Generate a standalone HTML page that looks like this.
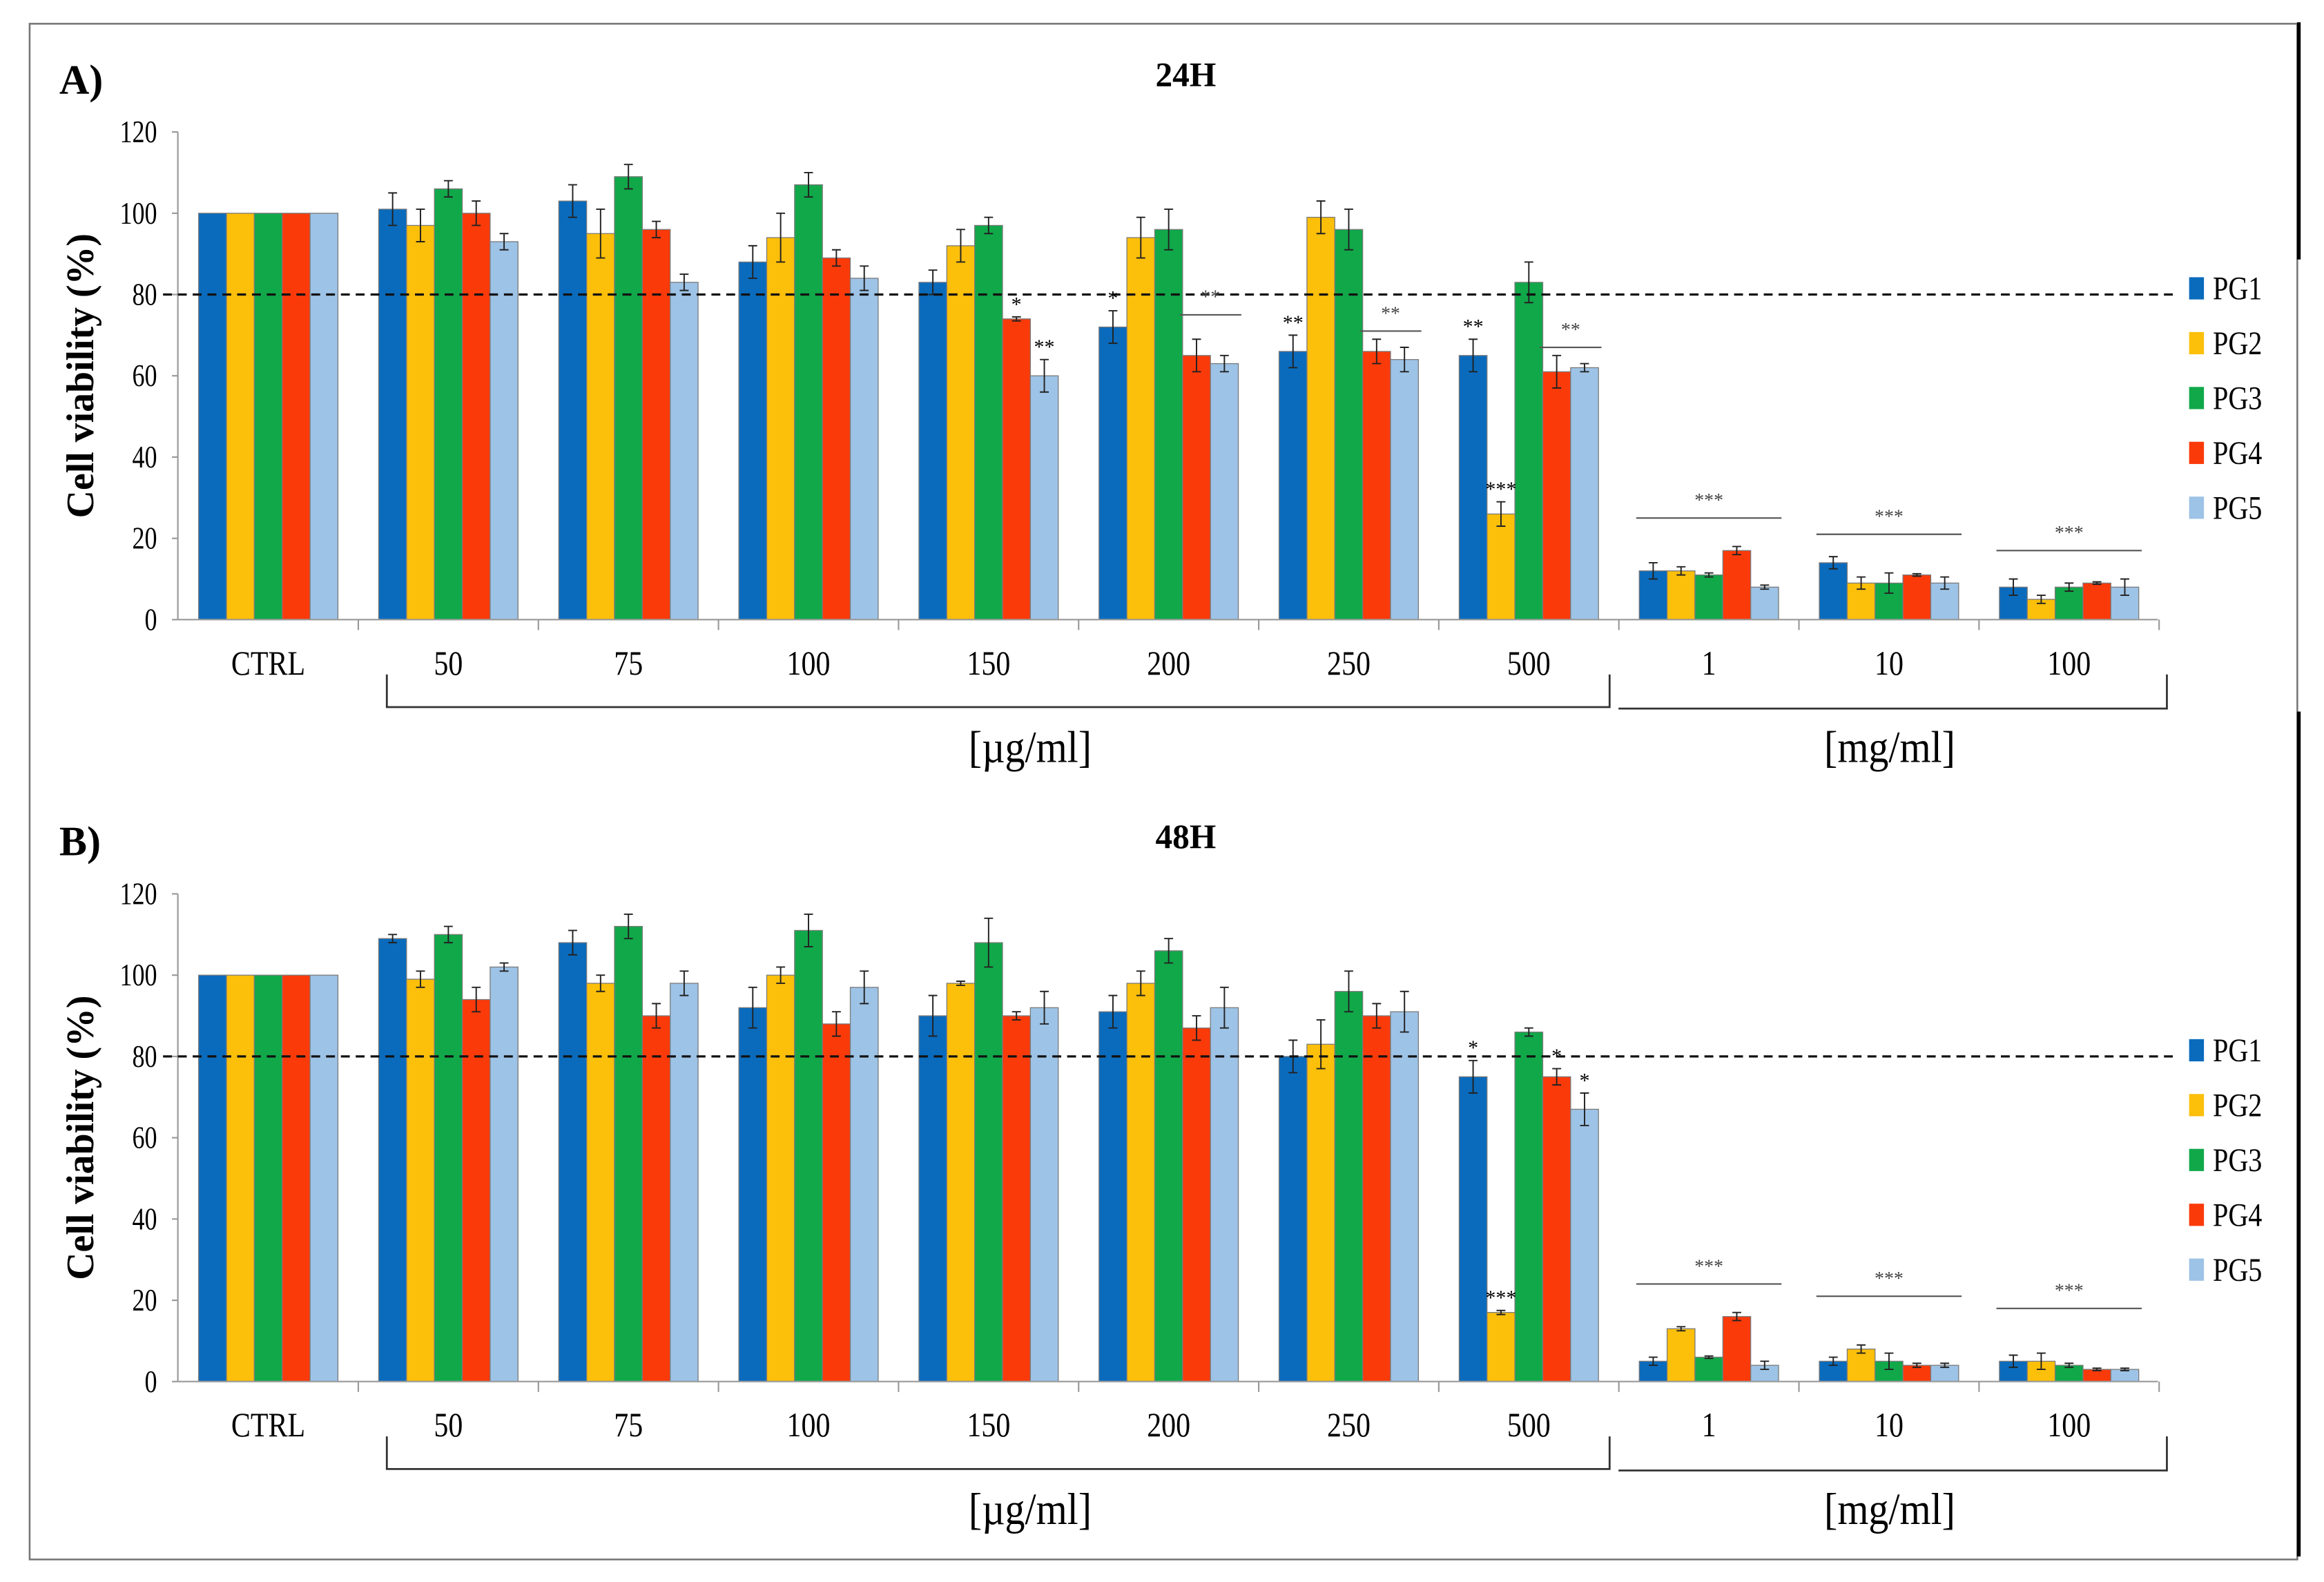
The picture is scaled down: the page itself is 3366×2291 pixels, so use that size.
<!DOCTYPE html>
<html><head><meta charset="utf-8"><style>
html,body{margin:0;padding:0;background:#fff;}
svg{display:block;}
text{font-family:"Liberation Serif",serif;}
</style></head><body>
<svg id="chart" width="3366" height="2291" viewBox="0 0 1568 1067.2" xmlns="http://www.w3.org/2000/svg">
<rect x="20" y="16" width="1530" height="1036" fill="none" stroke="#777" stroke-width="1.2"/>
<line x1="1551" y1="15" x2="1551" y2="175" stroke="#000" stroke-width="2.5"/>
<line x1="1551" y1="480" x2="1551" y2="1050" stroke="#000" stroke-width="2.5"/>
<g id="panels"></g>
</svg>
<script>
const categories = ["CTRL","50","75","100","150","200","250","500","1","10","100"];
const series = ["PG1","PG2","PG3","PG4","PG5"];
const colors = ["#0a6bbd","#fcbf0a","#11a84a","#fb3a0a","#9dc3e6"];
const yTicks = [0,20,40,60,80,100,120];
const a_PG1 = [100,101,103,88,83,72,66,65,12,14,8];
const a_PG2 = [100,97,95,94,92,94,99,26,12,9,5];
const a_PG3 = [100,106,109,107,97,96,96,83,11,9,8];
const a_PG4 = [100,100,96,89,74,65,66,61,17,11,9];
const a_PG5 = [100,93,83,84,60,63,64,62,8,9,8];
const a_err = [[0,4,4,4,3,4,4,4,2,1.5,2],[0,4,6,6,4,5,4,3,1,1.5,1],[0,2,3,3,2,5,5,5,0.5,2.5,1],[0,3,2,2,0.5,4,3,4,1,0.3,0.3],[0,2,2,3,4,2,3,1,0.5,1.5,2]];
const b_PG1 = [100,109,108,92,90,91,80,75,5,5,5];
const b_PG2 = [100,99,98,100,98,98,83,17,13,8,5];
const b_PG3 = [100,110,112,111,108,106,96,86,6,5,4];
const b_PG4 = [100,94,90,88,90,87,90,75,16,4,3];
const b_PG5 = [100,102,98,97,92,92,91,67,4,4,3];
const b_err = [[0,1,3,5,5,4,4,4,1,1,1.5],[0,2,2,2,0.5,3,6,0.5,0.5,1,2],[0,2,3,4,6,3,5,1,0.3,2,0.5],[0,3,3,3,1,3,3,2,1,0.5,0.3],[0,1,3,4,4,5,5,4,1,0.5,0.3]];
// significance annotations: [categoryIndex, seriesIndex, label]
const a_sig = [[4,3,"*"],[4,4,"**"],[5,0,"*"],[6,0,"**"],[7,0,"**"],[7,1,"***"]];
const a_sigLines = [[5,3,4,"**",75],[6,3,4,"**",71],[7,3,4,"**",67],[8,0,4,"***",25],[9,0,4,"***",21],[10,0,4,"***",17]];
const b_sig = [[7,0,"*"],[7,1,"***"],[7,3,"*"],[7,4,"*"]];
const b_sigLines = [[8,0,4,"***",24],[9,0,4,"***",21],[10,0,4,"***",18]];

const NS="http://www.w3.org/2000/svg";
const root=document.getElementById('panels');
function mk(tag,attrs,parent,txt){const e=document.createElementNS(NS,tag);for(const k in attrs)e.setAttribute(k,attrs[k]);if(txt!==undefined)e.textContent=txt;(parent||root).appendChild(e);return e;}

function drawPanel(off, letter, title, vals, errs, sig, sigLines, key){
  const g=mk('g',{});
  
  
  const y0=418+off, yTop=89+off, xL=120, xR=1456;
  const yS=v=>y0-(v/120)*(y0-yTop);
  const cx=i=>181+i*121.5;
  const bw=18.8;
  const xB=(i,s)=>cx(i)-2.5*bw+s*bw;
  let t=mk('text',{x:40,y:63+off,'font-size':28,'font-weight':'bold'},g,letter);
  
  
  t=mk('text',{x:800,y:58+off,'font-size':23,'font-weight':'bold','text-anchor':'middle'},g,title);
  
  
  t=mk('text',{x:0,y:0,'font-size':26,'font-weight':'bold','text-anchor':'middle',transform:`translate(63,${(y0+yTop)/2}) rotate(-90)`},g,'Cell viability (%)');
  
  
  const ya=mk('line',{x1:xL,y1:yTop,x2:xL,y2:y0,stroke:'#999','stroke-width':1},g);
  
  
  yTicks.forEach(v=>{
    const l=mk('line',{x1:xL-4,y1:yS(v),x2:xL,y2:yS(v),stroke:'#999'},g);
    
    
    const tt=mk('text',{x:0,y:0,'font-size':21,'text-anchor':'end','font-family':'Liberation Sans, sans-serif',transform:`translate(${xL-14},${yS(v)+7}) scale(0.8,1)`},g,String(v));
    
    
  });
  series.forEach((s,si)=>{
    vals[si].forEach((v,i)=>{
      const r=mk('rect',{x:xB(i,si),y:yS(v),width:bw,height:y0-yS(v),fill:colors[si],stroke:'#7a7a7a','stroke-width':0.6},g);
      
      
      const e=errs[si][i];
      if(e>0){
        const mx=xB(i,si)+bw/2;
        const el=mk('path',{d:`M${mx},${yS(v+e)}V${yS(v-e)}M${mx-3},${yS(v+e)}h6M${mx-3},${yS(v-e)}h6`,stroke:'#222','stroke-width':0.9,fill:'none'},g);
        
        
      }
    });
  });
  const d=mk('line',{x1:110,y1:yS(80),x2:1466,y2:yS(80),stroke:'#111','stroke-width':1.5,'stroke-dasharray':'6,4'},g);
  
  
  const xa=mk('line',{x1:xL,y1:y0,x2:xR,y2:y0,stroke:'#999'},g);
  
  
  categories.forEach((c,i)=>{
    const l=mk('line',{x1:cx(i)+60.75,y1:y0,x2:cx(i)+60.75,y2:y0+7,stroke:'#999'},g);
    
    
    const tt=mk('text',{x:0,y:0,'font-size':23,'text-anchor':'middle',transform:`translate(${cx(i)},${y0+37}) scale(0.85,1)`},g,c);
    
    
  });
  const b1=mk('path',{d:`M261,${y0+37}V${y0+59}H1086V${y0+37}`,stroke:'#333',fill:'none','stroke-width':1.3},g);
  
  
  const b2=mk('path',{d:`M1092,${y0+60}H1462V${y0+37}`,stroke:'#333',fill:'none','stroke-width':1.3},g);
  
  
  t=mk('text',{x:0,y:0,'font-size':30,'text-anchor':'middle',transform:`translate(695,${y0+96}) scale(0.9,1)`},g,'[µg/ml]');
  
  
  t=mk('text',{x:0,y:0,'font-size':30,'text-anchor':'middle',transform:`translate(1275,${y0+96}) scale(0.9,1)`},g,'[mg/ml]');
  
  
  sig.forEach(([i,si,lab])=>{
    const v=vals[si][i]+errs[si][i];
    const tt=mk('text',{x:xB(i,si)+bw/2,y:yS(v)-4,'font-size':14,'text-anchor':'middle'},g,lab);
    
    
  });
  sigLines.forEach(([i,s0,s1,lab,lv])=>{
    const x1=xB(i,s0)-2,x2=xB(i,s1)+bw+2;
    const l=mk('line',{x1:x1,y1:yS(lv),x2:x2,y2:yS(lv),stroke:'#555','stroke-width':1},g);
    
    
    const tt=mk('text',{x:(x1+x2)/2,y:yS(lv)-8,'font-size':13,'text-anchor':'middle',fill:'#444'},g,lab);
    
    
  });
  series.forEach((s,si)=>{
    const ly=195+off+si*37;
    const r=mk('rect',{x:1477,y:ly-8,width:10,height:15,fill:colors[si]},g);
    
    
    const tt=mk('text',{x:0,y:0,'font-size':22,transform:`translate(1493,${ly+7}) scale(0.85,1)`},g,s);
    
    
  });
}
drawPanel(0,'A)','24H',[a_PG1,a_PG2,a_PG3,a_PG4,a_PG5],a_err,a_sig,a_sigLines,'a');
drawPanel(514,'B)','48H',[b_PG1,b_PG2,b_PG3,b_PG4,b_PG5],b_err,b_sig,b_sigLines,'b');
</script>
</body></html>
